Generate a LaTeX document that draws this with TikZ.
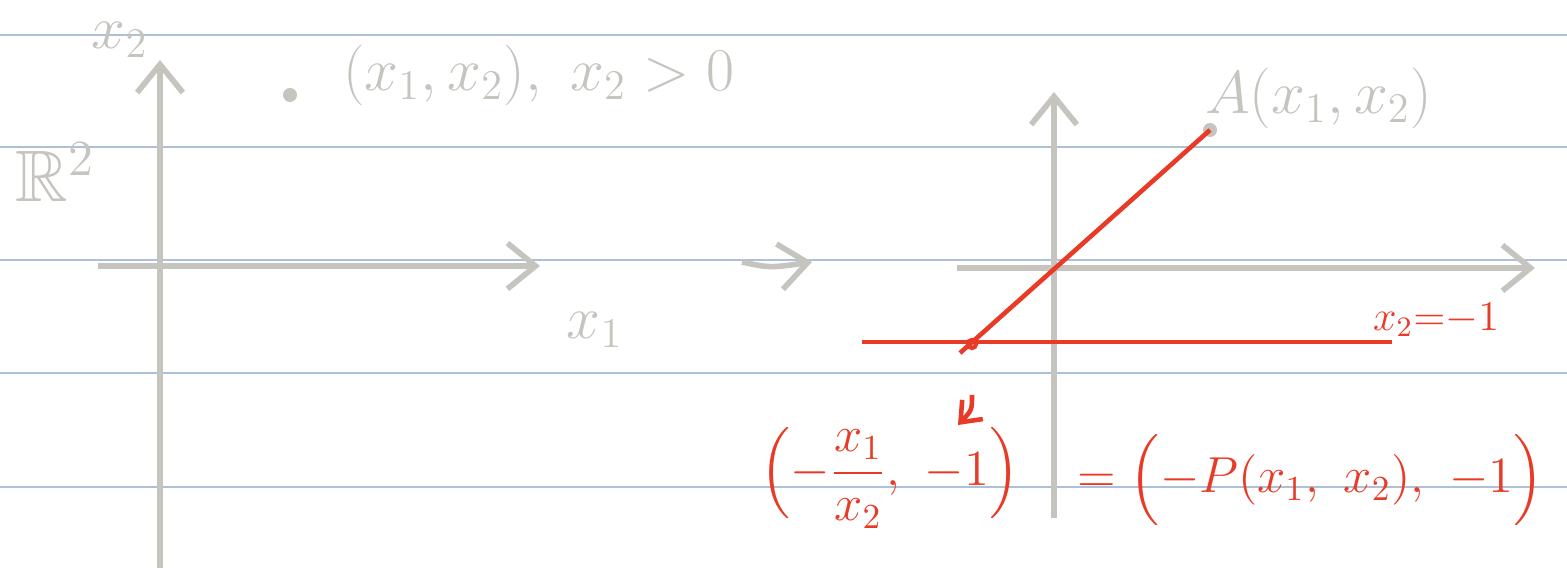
\documentclass[tikz,border=0pt]{standalone}
\usepackage{amsmath,amssymb}
\usetikzlibrary{arrows.meta}
\definecolor{rulecol}{RGB}{172,192,215}
\definecolor{pencil}{RGB}{198,196,190}
\definecolor{ink}{RGB}{232,58,38}
\begin{document}
\begin{tikzpicture}[x=0.01cm, y=-0.01cm, thick,
    every node/.style={font=\LARGE},
    ax/.style={pencil, line width=1.6pt, -{Straight Barb[length=8pt, width=13pt]}},
    redline/.style={ink, line width=1.3pt}]
    \useasboundingbox (0,0) rectangle (1567,568);
    \foreach \y in {35,147,260,373,487}
        \draw[rulecol, line width=0.6pt] (0,\y) -- (1567,\y);
    % left plane
    \coordinate (lo) at (160,568);
    \coordinate (lt) at (160,60);
    \coordinate (ll) at (98,266);
    \coordinate (lr) at (540,266);
    \draw[ax] (lo) -- (lt);
    \draw[ax] (ll) -- (lr);
    \node[pencil] (lx2) at (120,40) {$x_2$};
    \node[pencil, font=\huge] (lR) at (55,172) {$\mathbb{R}^2$};
    \node[pencil] (lx1) at (595,330) {$x_1$};
    \fill[pencil] (290,95) circle (7) coordinate (pt);
    \node[pencil, anchor=west] (ptlab) at (330,75) {$(x_1, x_2),\ x_2 > 0$};
    % map arrow
    \coordinate (ms) at (742,262);
    \coordinate (me) at (812,262);
    \draw[ax] (ms) .. controls (770,268) .. (me);
    % right plane
    \coordinate (ro) at (1054,518);
    \coordinate (rt) at (1054,92);
    \coordinate (rl) at (957,268);
    \coordinate (rr) at (1535,268);
    \draw[ax] (ro) -- (rt);
    \draw[ax] (rl) -- (rr);
    \fill[pencil] (1210,130) circle (7) coordinate (A);
    \node[pencil, anchor=west] (Alab) at (1192,98) {$A(x_1, x_2)$};
    \coordinate (hl) at (862,342);
    \coordinate (hr) at (1392,342);
    \draw[redline] (hl) -- (hr);
    \coordinate (B) at (972,344);
    \coordinate (Bend) at (960,353);
    \draw[redline] (A) -- (Bend);
    \draw[ink, line width=1.2pt] (B) circle (4);
    \node[ink, anchor=west, font=\large] (hlab) at (1360,320) {$x_2{=}{-}1$};
    \coordinate (as) at (972,395);
    \coordinate (ae) at (958,425);
    \draw[ink, line width=1.3pt, -{Straight Barb[length=5pt, width=8pt]}] (as) .. controls (972,410) .. (ae);
    \node[ink, font=\Large] (Blab) at (890,478) {$\Bigl(-\dfrac{x_1}{x_2},\ -1\Bigr)$};
    \node[ink, anchor=west, font=\Large] (Plab) at (1064,480) {$=\Bigl(-P(x_1,\ x_2),\ -1\Bigr)$};
\end{tikzpicture}
\end{document}
